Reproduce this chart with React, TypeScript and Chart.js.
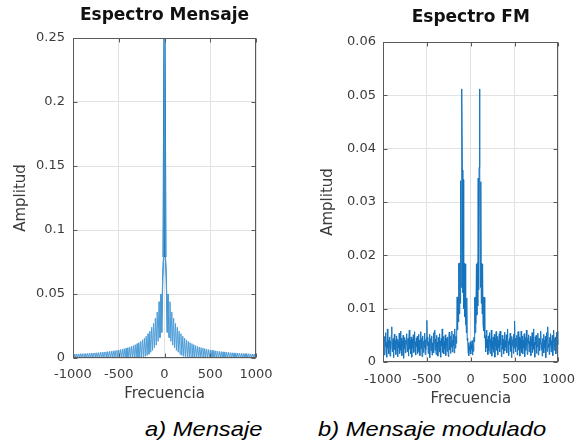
import React, { useEffect, useRef } from 'react';
import { Chart, registerables } from 'chart.js';

Chart.register(...registerables);

// ---------------- DATA ----------------
const xTicks = [-1000, -500, 0, 500, 1000];
const msgYTicks = [0, 0.05, 0.1, 0.15, 0.2, 0.25];
const fmYTicks = [0, 0.01, 0.02, 0.03, 0.04, 0.05, 0.06];

const MSG_F_START = -1000;
const MSG_F_STEP = 10;
// Message spectrum amplitude, f = -1000 .. 1000 Hz, step 10 Hz
const msgAmp = [
  0.0030, 0.0003, 0.0031, 0.0003, 0.0032, 0.0003, 0.0032, 0.0003, 0.0033, 0.0003,
  0.0034, 0.0003, 0.0034, 0.0003, 0.0035, 0.0003, 0.0036, 0.0003, 0.0037, 0.0003,
  0.0038, 0.0003, 0.0039, 0.0003, 0.0040, 0.0003, 0.0041, 0.0003, 0.0042, 0.0003,
  0.0044, 0.0003, 0.0045, 0.0003, 0.0047, 0.0003, 0.0048, 0.0003, 0.0050, 0.0003,
  0.0052, 0.0003, 0.0054, 0.0003, 0.0056, 0.0003, 0.0058, 0.0003, 0.0060, 0.0003,
  0.0063, 0.0003, 0.0066, 0.0003, 0.0069, 0.0004, 0.0073, 0.0004, 0.0077, 0.0004,
  0.0081, 0.0004, 0.0086, 0.0004, 0.0091, 0.0004, 0.0097, 0.0005, 0.0104, 0.0005,
  0.0112, 0.0006, 0.0120, 0.0007, 0.0130, 0.0008, 0.0142, 0.0010, 0.0155, 0.0012,
  0.0170, 0.0020, 0.0190, 0.0030, 0.0210, 0.0045, 0.0240, 0.0060, 0.0270, 0.0080,
  0.0310, 0.0100, 0.0360, 0.0130, 0.0440, 0.0160, 0.0500, 0.0200, 0.0620, 0.0790,
  0.2500, 0.0790, 0.0620, 0.0200, 0.0500, 0.0160, 0.0440, 0.0130, 0.0360, 0.0100,
  0.0310, 0.0080, 0.0270, 0.0060, 0.0240, 0.0045, 0.0210, 0.0030, 0.0190, 0.0020,
  0.0170, 0.0012, 0.0155, 0.0010, 0.0142, 0.0008, 0.0130, 0.0007, 0.0120, 0.0006,
  0.0112, 0.0005, 0.0104, 0.0005, 0.0097, 0.0004, 0.0091, 0.0004, 0.0086, 0.0004,
  0.0081, 0.0004, 0.0077, 0.0004, 0.0073, 0.0004, 0.0069, 0.0003, 0.0066, 0.0003,
  0.0063, 0.0003, 0.0060, 0.0003, 0.0058, 0.0003, 0.0056, 0.0003, 0.0054, 0.0003,
  0.0052, 0.0003, 0.0050, 0.0003, 0.0048, 0.0003, 0.0047, 0.0003, 0.0045, 0.0003,
  0.0044, 0.0003, 0.0042, 0.0003, 0.0041, 0.0003, 0.0040, 0.0003, 0.0039, 0.0003,
  0.0038, 0.0003, 0.0037, 0.0003, 0.0036, 0.0003, 0.0035, 0.0003, 0.0034, 0.0003,
  0.0034, 0.0003, 0.0033, 0.0003, 0.0032, 0.0003, 0.0032, 0.0003, 0.0031, 0.0003,
  0.0030,
];

const FM_F_START = -1000;
const FM_F_STEP = 5;
// FM spectrum amplitude, f = -1000 .. 1000 Hz, step 5 Hz
const fmAmp = [
  0.0042, 0.0021, 0.0035, 0.0013, 0.0048, 0.0029, 0.0055, 0.0018, 0.0037, 0.0009, 0.0062, 0.0026, 0.0041, 0.0015, 0.0033, 0.0047, 0.0011, 0.0039, 0.0024, 0.0051,
  0.0066, 0.0019, 0.0036, 0.0044, 0.0008, 0.0031, 0.0052, 0.0023, 0.0040, 0.0014, 0.0034, 0.0049, 0.0020, 0.0043, 0.0010, 0.0038, 0.0027, 0.0054, 0.0016, 0.0035,
  0.0058, 0.0022, 0.0045, 0.0012, 0.0039, 0.0030, 0.0050, 0.0007, 0.0036, 0.0025, 0.0046, 0.0017, 0.0041, 0.0033, 0.0053, 0.0019, 0.0028, 0.0044, 0.0011, 0.0037,
  0.0060, 0.0024, 0.0040, 0.0015, 0.0047, 0.0032, 0.0009, 0.0043, 0.0026, 0.0051, 0.0018, 0.0035, 0.0057, 0.0021, 0.0038, 0.0013, 0.0045, 0.0029, 0.0048, 0.0016,
  0.0034, 0.0052, 0.0020, 0.0041, 0.0012, 0.0037, 0.0057, 0.0025, 0.0044, 0.0010, 0.0032, 0.0049, 0.0018, 0.0039, 0.0027, 0.0054, 0.0014, 0.0042, 0.0023, 0.0046,
  0.0078, 0.0031, 0.0047, 0.0016, 0.0038, 0.0026, 0.0052, 0.0008, 0.0035, 0.0044, 0.0021, 0.0049, 0.0013, 0.0036, 0.0028, 0.0055, 0.0017, 0.0040, 0.0060, 0.0022,
  0.0043, 0.0014, 0.0050, 0.0027, 0.0037, 0.0011, 0.0046, 0.0033, 0.0019, 0.0053, 0.0024, 0.0040, 0.0009, 0.0045, 0.0030, 0.0062, 0.0018, 0.0036, 0.0048, 0.0015,
  0.0039, 0.0025, 0.0051, 0.0012, 0.0044, 0.0031, 0.0020, 0.0047, 0.0034, 0.0010, 0.0042, 0.0056, 0.0023, 0.0037, 0.0016, 0.0049, 0.0028, 0.0058, 0.0019, 0.0041,
  0.0030, 0.0052, 0.0017, 0.0045, 0.0062, 0.0026, 0.0048, 0.0035, 0.0052, 0.0122, 0.0060, 0.0121, 0.0075, 0.0185, 0.0090, 0.0186, 0.0110, 0.0340, 0.0140, 0.0368,
  0.0512, 0.0360, 0.0130, 0.0342, 0.0100, 0.0185, 0.0085, 0.0184, 0.0070, 0.0123, 0.0055, 0.0120, 0.0040, 0.0045, 0.0018, 0.0036, 0.0012, 0.0030, 0.0021, 0.0038,
  0.0015, 0.0033, 0.0024, 0.0040, 0.0013, 0.0035, 0.0020, 0.0046, 0.0038, 0.0121, 0.0055, 0.0122, 0.0072, 0.0183, 0.0088, 0.0186, 0.0105, 0.0345, 0.0135, 0.0365,
  0.0512, 0.0366, 0.0140, 0.0338, 0.0110, 0.0185, 0.0090, 0.0184, 0.0070, 0.0122, 0.0058, 0.0121, 0.0045, 0.0047, 0.0019, 0.0050, 0.0060, 0.0027, 0.0043, 0.0014,
  0.0049, 0.0021, 0.0037, 0.0055, 0.0016, 0.0042, 0.0029, 0.0060, 0.0011, 0.0039, 0.0025, 0.0047, 0.0018, 0.0034, 0.0052, 0.0009, 0.0044, 0.0031, 0.0057, 0.0022,
  0.0036, 0.0048, 0.0013, 0.0041, 0.0027, 0.0053, 0.0019, 0.0058, 0.0032, 0.0045, 0.0010, 0.0038, 0.0050, 0.0024, 0.0043, 0.0015, 0.0035, 0.0056, 0.0021, 0.0040,
  0.0028, 0.0051, 0.0017, 0.0046, 0.0062, 0.0023, 0.0039, 0.0012, 0.0044, 0.0033, 0.0054, 0.0020, 0.0037, 0.0008, 0.0048, 0.0030, 0.0042, 0.0016, 0.0052, 0.0026,
  0.0077, 0.0034, 0.0019, 0.0045, 0.0029, 0.0050, 0.0013, 0.0040, 0.0057, 0.0022, 0.0036, 0.0047, 0.0011, 0.0043, 0.0025, 0.0058, 0.0018, 0.0038, 0.0049, 0.0015,
  0.0041, 0.0027, 0.0053, 0.0010, 0.0036, 0.0046, 0.0022, 0.0060, 0.0031, 0.0014, 0.0044, 0.0035, 0.0051, 0.0019, 0.0039, 0.0026, 0.0048, 0.0012, 0.0043, 0.0030,
  0.0055, 0.0018, 0.0040, 0.0062, 0.0024, 0.0037, 0.0009, 0.0047, 0.0032, 0.0050, 0.0016, 0.0042, 0.0028, 0.0054, 0.0013, 0.0039, 0.0045, 0.0021, 0.0035, 0.0049,
  0.0058, 0.0023, 0.0036, 0.0011, 0.0044, 0.0030, 0.0052, 0.0017, 0.0041, 0.0026, 0.0048, 0.0008, 0.0038, 0.0055, 0.0020, 0.0043, 0.0066, 0.0027, 0.0034, 0.0014,
  0.0046, 0.0031, 0.0053, 0.0019, 0.0040, 0.0024, 0.0050, 0.0012, 0.0037, 0.0060, 0.0022, 0.0044, 0.0029, 0.0047, 0.0015, 0.0039, 0.0056, 0.0020, 0.0042, 0.0033,
  0.0058,
];

const msgFreqs = msgAmp.map((_, i) => MSG_F_START + i * MSG_F_STEP);
const fmFreqs = fmAmp.map((_, i) => FM_F_START + i * FM_F_STEP);

// ---------------- STYLE ----------------
const FONT = '"DejaVu Sans", sans-serif';
const TEXT_GREY = '#3c3c3c';

function makeBoxPlugin(title: string, titleY: number) {
  return {
    id: 'matlabBox',
    afterDatasetsDraw(chart: any) {
      const { ctx, chartArea: a, scales } = chart;
      ctx.save();
      ctx.strokeStyle = '#5a5a5a';
      ctx.lineWidth = 1;
      const l = Math.round(a.left) + 0.5;
      const t = Math.round(a.top) + 0.5;
      const r = Math.round(a.right) - 0.5;
      const b = Math.round(a.bottom) - 0.5;
      ctx.strokeRect(l, t, r - l, b - t);
      const tl = 4;
      ctx.beginPath();
      for (const tk of scales.x.ticks) {
        const px = Math.round(scales.x.getPixelForValue(tk.value)) + 0.5;
        ctx.moveTo(px, b); ctx.lineTo(px, b - tl);
        ctx.moveTo(px, t); ctx.lineTo(px, t + tl);
      }
      for (const tk of scales.y.ticks) {
        const py = Math.round(scales.y.getPixelForValue(tk.value)) + 0.5;
        ctx.moveTo(l, py); ctx.lineTo(l + tl, py);
        ctx.moveTo(r, py); ctx.lineTo(r - tl, py);
      }
      ctx.stroke();
      ctx.font = `bold 17px ${FONT}`;
      ctx.fillStyle = '#111111';
      ctx.textAlign = 'center';
      ctx.textBaseline = 'middle';
      ctx.fillText(title, (a.left + a.right) / 2, titleY);
      ctx.restore();
    },
  };
}

interface Spec {
  datasets: any[];
  title: string;
  titleY: number;
  top: number;
  padRight: number;
  yWidth: number;
  yTitlePad: number;
  yTicks: number[];
  yMax: number;
  xHeight: number;
  xTickPad: number;
  xTitlePad: number;
  yTickPad: number;
}

function buildConfig(p: Spec): any {
  return {
    type: 'line',
    data: { datasets: p.datasets },
    options: {
      animation: false,
      responsive: false,
      maintainAspectRatio: false,
      devicePixelRatio: 1,
      events: [],
      layout: { padding: { left: 0, right: p.padRight, top: p.top, bottom: 0 } },
      elements: { point: { radius: 0 }, line: { tension: 0 } },
      plugins: { legend: { display: false }, tooltip: { enabled: false }, title: { display: false } },
      scales: {
        x: {
          type: 'linear',
          min: xTicks[0],
          max: xTicks[xTicks.length - 1],
          afterBuildTicks: (s: any) => { s.ticks = xTicks.map((v) => ({ value: v })); },
          afterFit: (s: any) => { s.height = p.xHeight; },
          ticks: {
            callback: (v: any) => String(v),
            font: { family: FONT, size: 13 },
            color: TEXT_GREY,
            padding: p.xTickPad,
            maxRotation: 0,
            autoSkip: false,
          },
          grid: { color: '#e2e2e2', drawTicks: false },
          border: { display: false },
          title: {
            display: true,
            text: 'Frecuencia',
            font: { family: FONT, size: 15 },
            color: TEXT_GREY,
            padding: { top: 0, bottom: p.xTitlePad },
          },
        },
        y: {
          type: 'linear',
          min: 0,
          max: p.yMax,
          afterBuildTicks: (s: any) => { s.ticks = p.yTicks.map((v) => ({ value: v })); },
          afterFit: (s: any) => { s.width = p.yWidth; },
          ticks: {
            callback: (v: any) => String(v),
            font: { family: FONT, size: 13 },
            color: TEXT_GREY,
            padding: p.yTickPad,
            autoSkip: false,
          },
          grid: { color: '#e2e2e2', drawTicks: false },
          border: { display: false },
          title: {
            display: true,
            text: 'Amplitud',
            font: { family: FONT, size: 15 },
            color: TEXT_GREY,
            padding: { top: p.yTitlePad, bottom: 0 },
          },
        },
      },
    },
    plugins: [makeBoxPlugin(p.title, p.titleY)],
  };
}

function ChartCanvas({ spec, width, height, left }: { spec: Spec; width: number; height: number; left: number }) {
  const ref = useRef<HTMLCanvasElement | null>(null);
  useEffect(() => {
    if (!ref.current) return;
    const chart = new Chart(ref.current, buildConfig(spec));
    return () => chart.destroy();
  }, []);
  return (
    <canvas
      ref={ref}
      width={width}
      height={height}
      style={{ position: 'absolute', left, top: 0, width, height }}
    />
  );
}

const msgPoints = msgFreqs.map((f, i) => ({ x: f, y: msgAmp[i] }));
const msgCore = msgPoints.filter((pt) => Math.abs(pt.x) <= 50);
const msgCenter = msgPoints.filter((pt) => Math.abs(pt.x) <= MSG_F_STEP);
const fmPoints = fmFreqs.map((f, i) => ({ x: f, y: fmAmp[i] }));

const leftSpec: Spec = {
  datasets: [
    { data: msgPoints, borderColor: '#4f9dd7', borderWidth: 1, pointRadius: 0 },
    { data: msgCore, borderColor: '#1f7bc2', borderWidth: 1.2, pointRadius: 0 },
    { data: msgCenter, borderColor: '#0a6fb8', borderWidth: 2.2, pointRadius: 0 },
  ],
  title: 'Espectro Mensaje',
  titleY: 15.5,
  top: 38,
  padRight: 34,
  yWidth: 73,
  yTitlePad: 12,
  yTicks: msgYTicks,
  yMax: 0.25,
  xHeight: 52,
  xTickPad: 9,
  xTitlePad: 7,
  yTickPad: 8,
};

const rightSpec: Spec = {
  datasets: [{ data: fmPoints, borderColor: '#1673bd', borderWidth: 1, pointRadius: 0 }],
  title: 'Espectro FM',
  titleY: 17.8,
  top: 42,
  padRight: 18,
  yWidth: 93,
  yTitlePad: 29,
  yTicks: fmYTicks,
  yMax: 0.06,
  xHeight: 48,
  xTickPad: 10,
  xTitlePad: 2,
  yTickPad: 7,
};

const captionStyle: React.CSSProperties = {
  position: 'absolute',
  top: 418,
  fontFamily: '"Liberation Sans", Arial, sans-serif',
  fontStyle: 'italic',
  fontSize: 21,
  lineHeight: '21px',
  color: '#000',
  whiteSpace: 'nowrap',
  transform: 'scaleX(1.13)',
  transformOrigin: 'left top',
};

export default function App() {
  return (
    <div style={{ position: 'fixed', left: 0, top: 0, width: 585, height: 443, background: '#ffffff', overflow: 'hidden' }}>
      <ChartCanvas spec={leftSpec} width={290} height={410} left={0} />
      <ChartCanvas spec={rightSpec} width={295} height={410} left={290} />
      <div style={{ ...captionStyle, left: 145 }}>a) Mensaje</div>
      <div style={{ ...captionStyle, left: 318 }}>b) Mensaje modulado</div>
    </div>
  );
}
